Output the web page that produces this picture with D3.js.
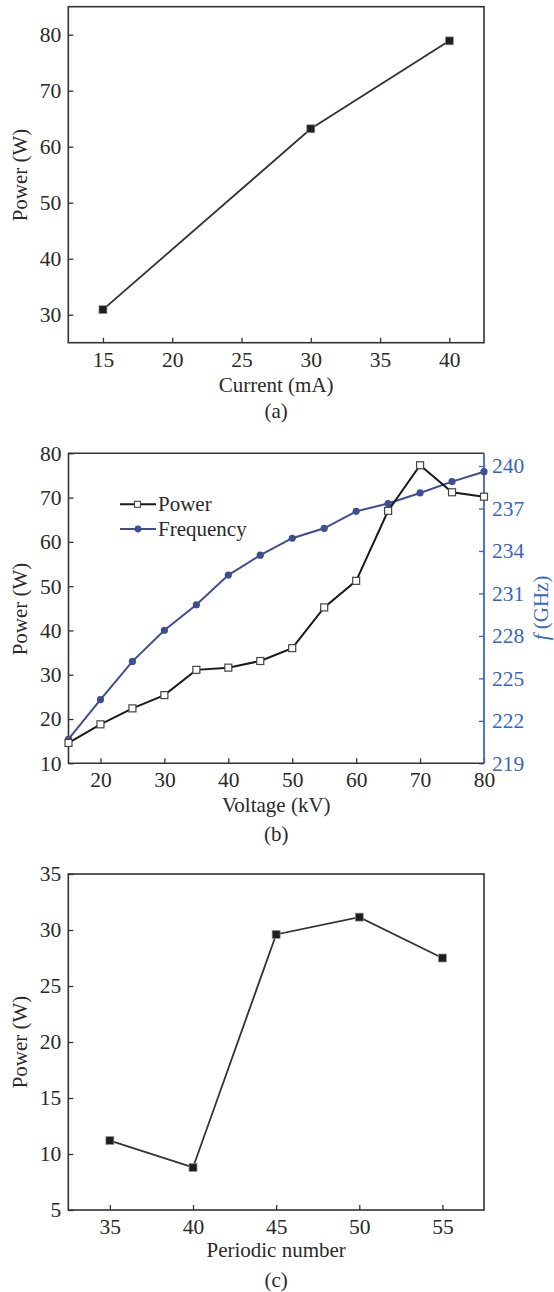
<!DOCTYPE html>
<html>
<head>
<meta charset="utf-8">
<script src="https://cdn.jsdelivr.net/npm/d3@7"></script>
<style>
  body { margin: 0; background: #fff; }
</style>
</head>
<body>
<div id="chart"></div>
<script>
// (a) power vs beam current
var currentMA = [15, 30, 40];
var powerA = [30.9, 63.2, 78.9];
var ticksA_x = [15, 20, 25, 30, 35, 40];
var ticksA_y = [30, 40, 50, 60, 70, 80];

// (b) power and frequency vs voltage
var voltageKV = [15, 20, 25, 30, 35, 40, 45, 50, 55, 60, 65, 70, 75, 80];
var powerB = [14.6, 18.8, 22.4, 25.4, 31.1, 31.6, 33.1, 36.0, 45.2, 51.2, 67.0, 77.3, 71.2, 70.2];
var freqGHz = [220.7, 223.5, 226.2, 228.4, 230.2, 232.3, 233.7, 234.9, 235.6, 236.8, 237.35, 238.1, 238.9, 239.6];
var ticksB_x = [20, 30, 40, 50, 60, 70, 80];
var ticksB_y = [10, 20, 30, 40, 50, 60, 70, 80];
var ticksB_f = [219, 222, 225, 228, 231, 234, 237, 240];

// (c) power vs periodic number
var periodicNum = [35, 40, 45, 50, 55];
var powerC = [11.2, 8.8, 29.6, 31.15, 27.5];
var ticksC_x = [35, 40, 45, 50, 55];
var ticksC_y = [5, 10, 15, 20, 25, 30, 35];

var W = 554, H = 1292;
var serif = '"Liberation Serif", "Times New Roman", Times, "DejaVu Serif", serif';
var textColor = "#2a2a2a";
var frameColor = "#333";
var blueAxis = "#3a66bf";
var blueLine = "#3d4f91";
var tickFont = 21.5;

var svg = d3.select("#chart").append("svg")
    .attr("width", W)
    .attr("height", H)
    .style("font-family", serif);

function addText(x, y, str, size) {
    return svg.append("text")
        .attr("x", x).attr("y", y)
        .style("font-family", serif)
        .style("font-size", size + "px")
        .style("fill", textColor)
        .text(str);
}

function styleAxis(g, color) {
    g.attr("font-family", null);
    g.select(".domain").remove();
    g.selectAll(".tick line").attr("stroke", color).attr("stroke-width", 1.3);
    g.selectAll(".tick text")
        .style("font-family", serif)
        .style("font-size", tickFont + "px")
        .style("fill", color == frameColor ? textColor : color);
}

function drawFrame(box) {
    svg.append("rect")
        .attr("x", box.left).attr("y", box.top)
        .attr("width", box.right - box.left)
        .attr("height", box.bottom - box.top)
        .attr("fill", "none")
        .attr("stroke", frameColor)
        .attr("stroke-width", 1.6);
}

function drawTitles(box, xTitle, yTitle, xBase, yCenter, caption, capBase) {
    var cx = (box.left + box.right) / 2;
    addText(cx, xBase, xTitle, 21).attr("text-anchor", "middle");
    addText(0, 0, yTitle, 21)
        .attr("transform", "translate(27," + yCenter + ") rotate(-90)")
        .attr("text-anchor", "middle");
    addText(cx, capBase, caption, 21).attr("text-anchor", "middle");
}

// simple panel: one series with filled square markers
function simplePanel(box, xs, ys, xDom, yDom, xTicks, yTicks, xPad) {
    var x = d3.scaleLinear().domain(xDom).range([box.left, box.right]);
    var y = d3.scaleLinear().domain(yDom).range([box.bottom, box.top]);

    svg.append("g")
        .attr("transform", "translate(0," + box.bottom + ")")
        .call(d3.axisBottom(x).tickValues(xTicks).tickSize(-5).tickPadding(xPad))
        .call(function(g) { styleAxis(g, frameColor); });
    svg.append("g")
        .attr("transform", "translate(" + box.left + ",0)")
        .call(d3.axisLeft(y).tickValues(yTicks).tickSize(-5).tickPadding(7))
        .call(function(g) { styleAxis(g, frameColor); });

    drawFrame(box);

    var pts = xs.map(function(d, i) { return [d, ys[i]]; });
    svg.append("path")
        .datum(pts)
        .attr("fill", "none")
        .attr("stroke", "#333")
        .attr("stroke-width", 1.8)
        .attr("d", d3.line().x(function(d) { return x(d[0]); }).y(function(d) { return y(d[1]); }));

    svg.selectAll(null)
        .data(pts)
        .enter().append("rect")
        .attr("x", function(d) { return x(d[0]) - 4; })
        .attr("y", function(d) { return y(d[1]) - 4; })
        .attr("width", 8).attr("height", 8)
        .attr("fill", "#1e1e1e")
        .attr("stroke", "#999")
        .attr("stroke-width", 0.7);
}

/* ---------- (a) ---------- */
var boxA = { left: 68.3, right: 484, top: 6.7, bottom: 342.7 };
simplePanel(boxA, currentMA, powerA, [12.5, 42.5], [25, 85], ticksA_x, ticksA_y, 9);
drawTitles(boxA, "Current (mA)", "Power (W)", 391.7, 175, "(a)", 418);

/* ---------- (b) ---------- */
var boxB = { left: 68.5, right: 484, top: 453.3, bottom: 763.3 };
var xB = d3.scaleLinear().domain([15, 80]).range([boxB.left, boxB.right]);
var yB = d3.scaleLinear().domain([10, 80]).range([boxB.bottom, boxB.top]);
var fB = d3.scaleLinear().domain([219, 240.9]).range([boxB.bottom, boxB.top]);

svg.append("g")
    .attr("transform", "translate(0," + boxB.bottom + ")")
    .call(d3.axisBottom(xB).tickValues(ticksB_x).tickSize(-5).tickPadding(8))
    .call(function(g) { styleAxis(g, frameColor); });
svg.append("g")
    .attr("transform", "translate(" + boxB.left + ",0)")
    .call(d3.axisLeft(yB).tickValues(ticksB_y).tickSize(-5).tickPadding(7))
    .call(function(g) { styleAxis(g, frameColor); });
svg.append("g")
    .attr("transform", "translate(" + boxB.right + ",0)")
    .call(d3.axisRight(fB).tickValues(ticksB_f).tickSize(-5).tickPadding(8))
    .call(function(g) { styleAxis(g, blueAxis); });

// frame: left/top/bottom dark, right side blue
svg.append("path")
    .attr("d", "M" + boxB.right + "," + boxB.top + "H" + boxB.left + "V" + boxB.bottom + "H" + boxB.right)
    .attr("fill", "none").attr("stroke", frameColor).attr("stroke-width", 1.6);
svg.append("line")
    .attr("x1", boxB.right).attr("x2", boxB.right)
    .attr("y1", boxB.top).attr("y2", boxB.bottom)
    .attr("stroke", blueAxis).attr("stroke-width", 1.8);

var powPts = voltageKV.map(function(d, i) { return [d, powerB[i]]; });
var freqPts = voltageKV.map(function(d, i) { return [d, freqGHz[i]]; });

svg.append("path")
    .datum(freqPts)
    .attr("fill", "none").attr("stroke", blueLine).attr("stroke-width", 2)
    .attr("d", d3.line().x(function(d) { return xB(d[0]); }).y(function(d) { return fB(d[1]); }));
svg.selectAll(null)
    .data(freqPts)
    .enter().append("circle")
    .attr("cx", function(d) { return xB(d[0]); })
    .attr("cy", function(d) { return fB(d[1]); })
    .attr("r", 3.6)
    .attr("fill", blueLine);

svg.append("path")
    .datum(powPts)
    .attr("fill", "none").attr("stroke", "#1a1a1a").attr("stroke-width", 2)
    .attr("d", d3.line().x(function(d) { return xB(d[0]); }).y(function(d) { return yB(d[1]); }));
svg.selectAll(null)
    .data(powPts)
    .enter().append("rect")
    .attr("x", function(d) { return xB(d[0]) - 3.5; })
    .attr("y", function(d) { return yB(d[1]) - 3.5; })
    .attr("width", 7).attr("height", 7)
    .attr("fill", "#fff")
    .attr("stroke", "#444")
    .attr("stroke-width", 1.2);

// legend
var legend = [
    { name: "Power", color: "#1a1a1a", y: 504.3, marker: "square" },
    { name: "Frequency", color: blueLine, y: 529, marker: "dot" }
];
legend.forEach(function(l) {
    svg.append("line")
        .attr("x1", 120).attr("x2", 156)
        .attr("y1", l.y).attr("y2", l.y)
        .attr("stroke", l.color).attr("stroke-width", 2);
    if (l.marker == "square") {
        svg.append("rect")
            .attr("x", 134.5).attr("y", l.y - 3)
            .attr("width", 6).attr("height", 6)
            .attr("fill", "#fff").attr("stroke", "#444").attr("stroke-width", 1.1);
    } else {
        svg.append("circle")
            .attr("cx", 138).attr("cy", l.y).attr("r", 3.4)
            .attr("fill", l.color);
    }
    addText(158, l.y + 7, l.name, 21);
});

drawTitles(boxB, "Voltage (kV)", "Power (W)", 811.7, 609, "(b)", 841);

var fTitle = addText(0, 0, "", 21)
    .attr("transform", "translate(548,608) rotate(-90)")
    .attr("text-anchor", "middle")
    .style("fill", blueAxis);
fTitle.append("tspan").style("font-style", "italic").text("f");
fTitle.append("tspan").text(" (GHz)");

/* ---------- (c) ---------- */
var boxC = { left: 68.3, right: 484, top: 874, bottom: 1210 };
simplePanel(boxC, periodicNum, powerC, [32.5, 57.5], [5, 35], ticksC_x, ticksC_y, 9);
drawTitles(boxC, "Periodic number", "Power (W)", 1257, 1042, "(c)", 1287);
</script>
</body>
</html>
